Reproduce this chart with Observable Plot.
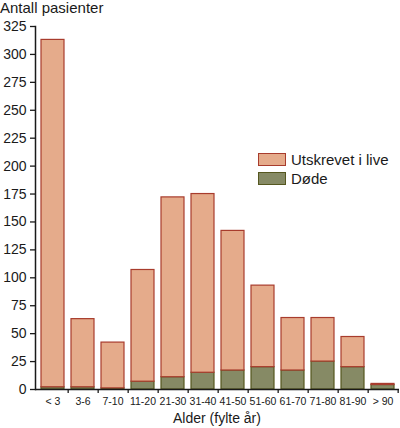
<!DOCTYPE html>
<html>
<head>
<meta charset="utf-8">
<script src="https://cdn.jsdelivr.net/npm/d3@7"></script>
<script src="https://cdn.jsdelivr.net/npm/@observablehq/plot@0.6"></script>
<style>
  body { margin: 0; background: white; font-family: "Liberation Sans", Arial, sans-serif; color: #1a1a1a; }
  #wrap { position: relative; width: 400px; height: 428px; }
  .txt { position: absolute; font-size: 14px; line-height: 14px; white-space: nowrap; }
  .big { font-size: 15px; line-height: 15px; }
  .row { display: flex; align-items: center; height: 19px; }
  .sw { display: inline-block; width: 26px; height: 11px; margin-right: 5px; }
</style>
</head>
<body>
<div id="wrap">
  <div id="chart"></div>
  <div class="txt big" style="left:0;top:0;">Antall pasienter</div>
  <div class="txt" style="left:35px;width:364px;top:411px;text-align:center;">Alder (fylte år)</div>
  <div id="legend" class="txt big" style="left:258px;top:150px;"></div>
</div>
<script>
// aldersgrupper
const categories = ["< 3", "3-6", "7-10", "11-20", "21-30", "31-40", "41-50", "51-60", "61-70", "71-80", "81-90", "> 90"];
// antall pasienter per gruppe
const dode = [2, 2, 1, 7, 11, 15, 17, 20, 17, 25, 20, 4];
const utskrevet = [311, 61, 41, 100, 161, 160, 125, 73, 47, 39, 27, 1];
const yTicks = d3.range(0, 326, 25);

const series = [
  {name: "Døde", values: dode, fill: "#868a65", stroke: "#55571f"},
  {name: "Utskrevet i live", values: utskrevet, fill: "#e5ab8b", stroke: "#a83c2d"}
];

// langt format, døde nederst i stabelen
const data = series.flatMap(s => s.values.map((v, i) => ({alder: categories[i], antall: v, serie: s.name, fill: s.fill, stroke: s.stroke})));

const width = 400, mLeft = 35, mRight = 1;
const step = (width - mLeft - mRight) / categories.length;

const chart = Plot.plot({
  width: width,
  height: 428,
  marginTop: 26,
  marginBottom: 39,
  marginLeft: mLeft,
  marginRight: mRight,
  style: {fontFamily: "Liberation Sans, Arial, sans-serif", fontSize: "14px", color: "#1a1a1a"},
  x: {domain: categories, paddingInner: 0.24, paddingOuter: 0.12, label: null},
  y: {domain: [0, 325], label: null},
  color: {type: "identity"},
  marks: [
    Plot.barY(data, {x: "alder", y: "antall", z: "serie", fill: "fill", stroke: "stroke", strokeWidth: 1.2}),
    Plot.axisY({ticks: yTicks, tickSize: 5, tickPadding: 4, strokeWidth: 1.3, label: null}),
    // tikk mellom gruppene
    Plot.axisX({tickSize: 4, dx: step / 2, tickFormat: () => "", strokeWidth: 1.3, label: null}),
    Plot.axisX({tickSize: 0, tickPadding: 8, fontSize: 10.5, label: null}),
    Plot.frame({anchor: "left", strokeWidth: 1.5}),
    Plot.ruleY([0], {strokeWidth: 1.5})
  ]
});

d3.select('#chart').append(() => chart);

// forklaring
const legend = d3.select('#legend');
[...series].reverse().forEach(s => {
  const row = legend.append('div').attr('class', 'row');
  row.append('span').attr('class', 'sw')
    .style('background', s.fill)
    .style('border', `1px solid ${s.stroke}`);
  row.append('span').text(s.name);
});
</script>
</body>
</html>
